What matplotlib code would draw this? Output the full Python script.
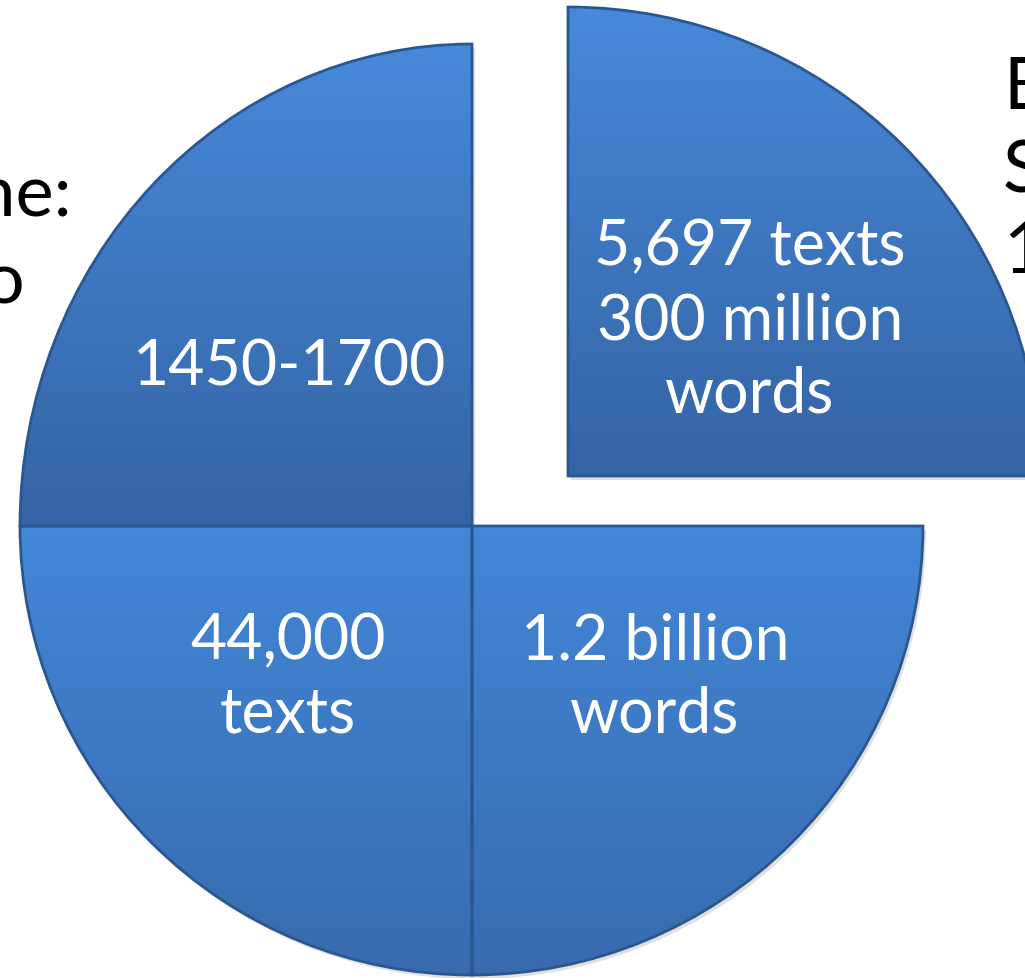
import matplotlib
matplotlib.use("Agg")
import matplotlib.pyplot as plt
import numpy as np
from matplotlib.transforms import Affine2D
from matplotlib.colors import LinearSegmentedColormap

# ---- data ----
shares = [25, 25, 25, 25]
slice_labels = ["5,697 texts\n300 million\nwords", "1.2 billion\nwords", "44,000\ntexts", "1450-1700"]
side_left = ["Time:", "to"]
side_right = ["EEBO-TCP", "Size:", "1473-1700"]

# ---- layout (pixel space) ----
W, H = 1025, 979
def py(y):
    return H - y

# per-slice geometry: (cx, cy, rx, ry)
geom = [
    (568, py(477), 472, 469),   # top-right (exploded)
    (472, py(527), 451, 449),   # bottom-right
    (472, py(527), 452, 449),   # bottom-left
    (472, py(527), 452, 482),   # top-left
]
grad_cols = [
    ("#4789DA", "#3464A4"),
    ("#4287D8", "#386BAE"),
    ("#4287D8", "#386BAE"),
    ("#4789DA", "#3464A4"),
]
label_pos = [(750, py(321)), (655, py(678)), (288, py(678)), (290, py(367))]

plt.rcParams['font.family'] = ['Lato', 'DejaVu Sans']

fig = plt.figure(figsize=(W / 100, H / 100), dpi=100)
fig.patch.set_facecolor("white")
ax = fig.add_axes([0, 0, 1, 1])

wedges, _ = ax.pie(shares, startangle=90, counterclock=False, radius=1,
                   center=(0, 0), frame=True)

for i, w in enumerate(wedges):
    cx, cy, rx, ry = geom[i]
    w.set_transform(Affine2D().scale(rx, ry).translate(cx, cy) + ax.transData)
    w.set_facecolor("none")
    w.set_edgecolor("#2B5790")
    w.set_linewidth(2.0)
    w.set_zorder(4)
    top_col, bot_col = grad_cols[i]
    cmap = LinearSegmentedColormap.from_list(f"g{i}", [bot_col, top_col])
    grad = np.linspace(0, 1, 256).reshape(-1, 1)
    ylo, yhi = (cy, cy + ry) if i in (0, 3) else (cy - ry, cy)
    im = ax.imshow(grad, extent=(cx - rx, cx + rx, ylo, yhi), cmap=cmap,
                   aspect='auto', origin='lower', zorder=3, interpolation='bilinear')
    im.set_clip_path(w)
    # soft drop shadow
    shadow = matplotlib.patches.Wedge((0, 0), 1, w.theta1, w.theta2,
                                      facecolor="#000000", alpha=0.12, edgecolor="none",
                                      transform=Affine2D().scale(rx, ry).translate(cx + 3, cy - 4) + ax.transData,
                                      zorder=2)
    ax.add_patch(shadow)
    ax.text(label_pos[i][0], label_pos[i][1], slice_labels[i], color="white",
            fontsize=45, ha="center", va="center", linespacing=1.33, zorder=6)

# side texts (partially cut by the slide crop, as in the reference)
left_x = [73, 25]
left_base = [215, 303]
for t, x, b in zip(side_left, left_x, left_base):
    ax.text(x, py(b), t, fontsize=52, color="black",
            ha="right", va="baseline", zorder=1)
right_base = [110, 192, 273]
for t, b in zip(side_right, right_base):
    ax.text(1003, py(b), t, fontsize=52, color="black",
            ha="left", va="baseline", zorder=1)

ax.set_xlim(0, W)
ax.set_ylim(0, H)
ax.set_aspect('auto')
ax.axis('off')
fig.savefig("out.png", dpi=100, facecolor="white")
